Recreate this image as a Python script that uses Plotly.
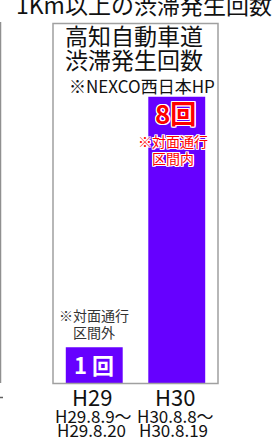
import plotly.graph_objects as go

# ---- data ----
categories = ["H29", "H30"]
values = [1, 8]
value_labels = ["1 回", "8回"]
period_start = ["H29.8.9～", "H30.8.8～"]
period_end = ["H29.8.20", "H30.8.19"]
chart_title = "1Km以上の渋滞発生回数"
box_title = ["高知自動車道", "渋滞発生回数"]
source_note = "※NEXCO西日本HP"
note_h29 = ["※対面通行", "区間外"]
note_h30 = ["※対面通行", "区間内"]

W, H = 274, 437
FONT = "Noto Sans CJK JP"
BAR = "#6600FF"


def py(ypx):
    return (H - ypx) / H


def px(xpx):
    return xpx / W


outline = ("white 1px 0px 0px, white -1px 0px 0px, white 0px 1px 0px, white 0px -1px 0px, "
           "white 1px 1px 0px, white -1px -1px 0px, white 1px -1px 0px, white -1px 1px 0px")

fig = go.Figure(go.Bar(
    x=categories, y=values, marker=dict(color=BAR, line=dict(width=0)),
    width=0.69, hoverinfo="skip",
))

ann = []
ann.append(dict(text=chart_title, x=px(144), y=py(3.5), xref="paper", yref="paper",
                xanchor="center", yanchor="middle", showarrow=False,
                font=dict(family=FONT, size=23, color="#111")))
for i, t in enumerate(box_title):
    ann.append(dict(text=t, x=px(134), y=py(35 + 24 * i), xref="paper", yref="paper",
                    xanchor="center", yanchor="middle", showarrow=False,
                    font=dict(family=FONT, size=23, color="#111")))
ann.append(dict(text=source_note, x=px(217), y=py(85.5), xref="paper", yref="paper",
                xanchor="right", yanchor="middle", showarrow=False,
                font=dict(family=FONT, size=17, color="#111")))
# value labels
ann.append(dict(text="<b>%s</b>" % value_labels[0], x=categories[0], y=values[0] / 2,
                xref="x", yref="y", xanchor="center", yanchor="middle", yshift=1,
                showarrow=False,
                font=dict(family=FONT, size=22, color="white")))
ann.append(dict(text="<b>%s</b>" % value_labels[1], x=categories[1], y=values[1],
                xref="x", yref="y", xanchor="center", yanchor="top", yshift=5, xshift=-1,
                showarrow=False,
                font=dict(family=FONT, size=26, color="#FF0000", shadow=outline)))
for i, t in enumerate(note_h30):
    ann.append(dict(text=t, x=categories[1], y=py(141 + 16.5 * i), xref="x", yref="paper",
                    xanchor="center", yanchor="middle", xshift=-4, showarrow=False,
                    font=dict(family=FONT, size=14, color="#FF0000", shadow=outline)))
for i, t in enumerate(note_h29):
    ann.append(dict(text=t, x=categories[0], y=py(315 + 17 * i), xref="x", yref="paper",
                    xanchor="center", yanchor="middle", xshift=0, showarrow=False,
                    font=dict(family=FONT, size=14, color="#333")))
for i, c in enumerate(categories):
    ann.append(dict(text=c, x=c, y=py(396), xref="x", yref="paper",
                    xanchor="center", yanchor="middle", xshift=-2, showarrow=False,
                    font=dict(family=FONT, size=22, color="#111")))
    ann.append(dict(text=period_start[i], x=c, y=py(415), xref="x", yref="paper",
                    xanchor="center", yanchor="middle", xshift=-1, showarrow=False,
                    font=dict(family=FONT, size=17, color="#111")))
    ann.append(dict(text=period_end[i], x=c, y=py(429.5), xref="x", yref="paper",
                    xanchor="center", yanchor="middle", xshift=-3, showarrow=False,
                    font=dict(family=FONT, size=17, color="#111")))

shapes = [
    dict(type="rect", xref="paper", yref="paper", x0=px(53), x1=px(218), y0=py(383.5), y1=py(23.5),
         line=dict(color="#A0A0A0", width=1.5), layer="above"),
    dict(type="line", xref="paper", yref="paper", x0=px(0.5), x1=px(0.5), y0=py(383), y1=py(22),
         line=dict(color="#909090", width=1.5)),
    dict(type="line", xref="paper", yref="paper", x0=px(0), x1=px(3), y0=py(397.5), y1=py(397.5),
         line=dict(color="#606060", width=1.5)),
]

fig.update_layout(
    width=W, height=H, margin=dict(l=0, r=0, t=0, b=0),
    paper_bgcolor="white", plot_bgcolor="white",
    showlegend=False, bargap=0.31,
    xaxis=dict(domain=[px(53), px(218)], range=[-0.5, 1.5], showticklabels=False,
               showgrid=False, zeroline=False, showline=False, fixedrange=True),
    yaxis=dict(domain=[py(383), py(23.5)], range=[0, 10.05], showticklabels=False,
               showgrid=False, zeroline=False, showline=False, fixedrange=True),
    annotations=ann, shapes=shapes,
)

fig.write_html(
    "out.html",
    config={"displayModeBar": False},
    post_script="document.body.style.margin='0';document.body.style.overflow='hidden';",
)
